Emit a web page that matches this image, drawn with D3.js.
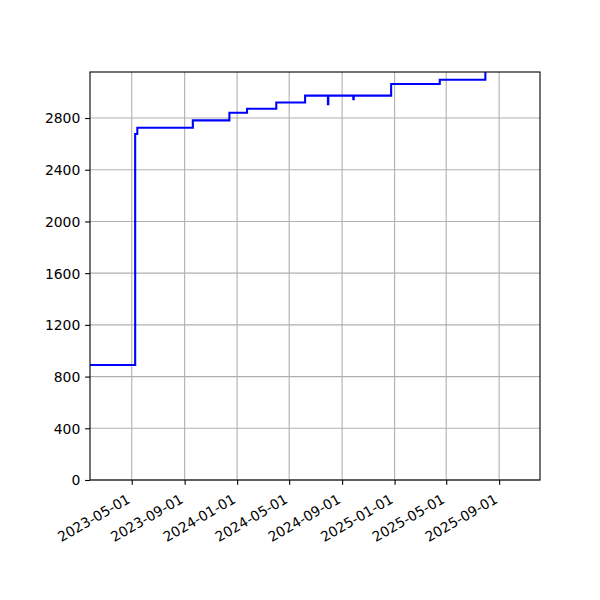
<!DOCTYPE html>
<html><head><meta charset="utf-8">
<script src="https://cdn.jsdelivr.net/npm/d3@7"></script>
<style>body{margin:0;background:#fff}svg{display:block}text{font-family:"DejaVu Sans",sans-serif}</style>
</head><body><div id="chart"></div>
<script>
const dates = ["2023-01-24","2023-05-09","2023-05-14","2023-09-20","2023-12-14","2024-01-24","2024-04-01","2024-06-07","2024-07-30","2024-07-31","2024-09-27","2024-09-28","2024-12-24","2025-04-16","2025-07-31"];
const values = [890,2676,2725,2782,2841,2872,2920,2973,2906,2973,2945,2973,3063,3096,3156];
const xDomain = ["2023-01-24","2025-12-05"];
const yDomain = [0,3156];
const yTicks = [0,400,800,1200,1600,2000,2400,2800];
const xTickLabels = ["2023-05-01","2023-09-01","2024-01-01","2024-05-01","2024-09-01","2025-01-01","2025-05-01","2025-09-01"];

const parse = d3.utcParse("%Y-%m-%d");
const W=600,H=600, L=90,R=540,T=72,B=480;
const svg = d3.select("#chart").append("svg").attr("width",W).attr("height",H);
const x = d3.scaleUtc().domain(xDomain.map(parse)).range([L,R]);
const y = d3.scaleLinear().domain(yDomain).range([B,T]);
const data = dates.map((d,i)=>({d:parse(d),v:values[i]}));

// grid
const g = svg.append("g");
g.selectAll(".gx").data(xTickLabels).join("line")
  .attr("x1",d=>x(parse(d))).attr("x2",d=>x(parse(d))).attr("y1",T).attr("y2",B)
  .attr("stroke","#b0b0b0").attr("stroke-width",1.1);
g.selectAll(".gy").data(yTicks).join("line")
  .attr("x1",L).attr("x2",R).attr("y1",d=>y(d)).attr("y2",d=>y(d))
  .attr("stroke","#b0b0b0").attr("stroke-width",1.1);

// line
svg.append("defs").append("clipPath").attr("id","clip").append("rect")
  .attr("x",L).attr("y",T).attr("width",R-L).attr("height",B-T);
const line = d3.line().x(d=>x(d.d)).y(d=>y(d.v)).curve(d3.curveStepAfter);
svg.append("path").datum(data).attr("d",line).attr("fill","none")
  .attr("stroke","#0000ff").attr("stroke-width",2.08).attr("clip-path","url(#clip)");

// axes
const yAxis = d3.axisLeft(y).tickValues(yTicks).tickSize(4.86).tickPadding(4.86).tickFormat(d3.format("d"));
const ya = svg.append("g").attr("transform",`translate(${L},0)`).call(yAxis);
const xAxis = d3.axisBottom(x).tickValues(xTickLabels.map(parse)).tickSize(4.86).tickFormat(d3.utcFormat("%Y-%m-%d"));
const xa = svg.append("g").attr("transform",`translate(0,${B})`).call(xAxis);
[ya,xa].forEach(a=>{a.select(".domain").remove();a.selectAll("line").attr("stroke","#000").attr("stroke-width",1.1);
  a.selectAll("text").attr("fill","#000").attr("font-size","13.9px").attr("font-family","DejaVu Sans");});
ya.selectAll("text").attr("dy","0.35em");
xa.selectAll("text").attr("text-anchor","end").attr("dy",null).attr("y",null)
  .attr("transform","translate(-1,22) rotate(-30)");

// spines
svg.append("rect").attr("x",L).attr("y",T).attr("width",R-L).attr("height",B-T)
  .attr("fill","none").attr("stroke","#000").attr("stroke-width",1.1);
</script></body></html>
